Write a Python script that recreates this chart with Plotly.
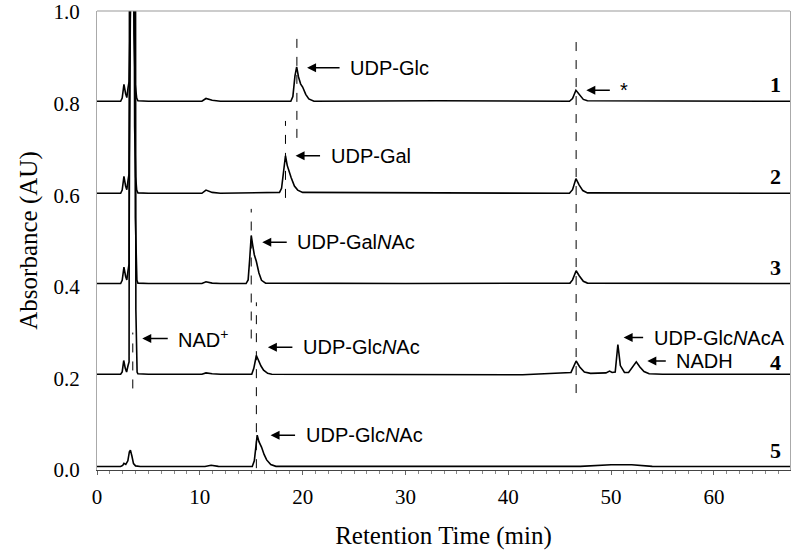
import plotly.graph_objects as go

# retention time (min) / absorbance (AU)
# (the NAD+ peak of lanes 1-4 runs far off scale; its edges are read where they cross the plot)
t1 = [0, 2.3, 2.45, 2.62, 2.78, 2.9, 3.02, 3.12, 3.40, 3.52, 3.60, 3.72, 3.86, 3.98, 5, 10.2, 10.6, 11.2,
      12, 18.85, 19.05, 19.25, 19.42, 19.6, 19.8, 20.0, 20.3, 20.6, 21.1, 33, 45.95, 46.25, 46.58, 46.9, 47.3, 47.7, 67.4]
a1 = [0.805, 0.805, 0.812, 0.842, 0.822, 0.813, 0.835, 0.848, 1.2, 1.2, 0.95, 0.84, 0.812, 0.806, 0.805, 0.805, 0.811, 0.807,
      0.805, 0.805, 0.815, 0.86, 0.880, 0.858, 0.843, 0.836, 0.82, 0.81, 0.805, 0.806, 0.805, 0.811, 0.829, 0.819, 0.809, 0.806, 0.805]

t2 = [0, 2.3, 2.45, 2.62, 2.78, 2.9, 3.02, 3.12, 3.32, 3.60, 3.66, 3.76, 3.86, 3.98, 5, 10.2, 10.6, 11.2,
      12, 17.75, 17.95, 18.15, 18.33, 18.5, 18.65, 18.87, 19.2, 19.52, 20.0, 35, 45.95, 46.25, 46.58, 46.9, 47.25, 47.7, 67.4]
a2 = [0.604, 0.604, 0.611, 0.641, 0.620, 0.612, 0.633, 0.647, 1.2, 1.2, 0.75, 0.64, 0.611, 0.605, 0.604, 0.604, 0.611, 0.606,
      0.604, 0.606, 0.615, 0.66, 0.686, 0.665, 0.653, 0.639, 0.620, 0.611, 0.606, 0.605, 0.604, 0.612, 0.636, 0.622, 0.61, 0.605, 0.604]

t3 = [0, 2.3, 2.45, 2.62, 2.78, 2.9, 3.02, 3.12, 3.24, 3.67, 3.73, 3.80, 3.88, 3.98, 5, 10.2, 10.6, 11.2,
      12, 14.5, 14.7, 14.85, 15.0, 15.15, 15.3, 15.5, 15.75, 16.0, 16.4, 30, 46.0, 46.25, 46.6, 46.9, 47.3, 47.7, 67.4]
a3 = [0.407, 0.407, 0.414, 0.443, 0.423, 0.415, 0.436, 0.450, 1.2, 1.2, 0.55, 0.445, 0.414, 0.408, 0.407, 0.407, 0.411, 0.408,
      0.407, 0.407, 0.415, 0.46, 0.512, 0.49, 0.47, 0.455, 0.43, 0.414, 0.408, 0.407, 0.408, 0.415, 0.435, 0.424, 0.412, 0.408, 0.407]

t4 = [0, 2.3, 2.45, 2.6, 2.75, 2.88, 3.02, 3.12, 3.16, 3.74, 3.78, 3.84, 3.9, 3.98, 5, 10.2, 10.6, 11.2,
      12, 15.05, 15.25, 15.5, 15.7, 15.95, 16.2, 16.6, 17.0, 36, 41.4, 46.1, 46.6, 46.95, 47.4, 48, 49.5, 49.85, 50.1, 50.4,
      50.66, 50.9, 51.3, 51.7, 51.95, 52.45, 52.8, 53.2, 53.7, 55, 67.4]
a4 = [0.209, 0.209, 0.214, 0.239, 0.222, 0.214, 0.228, 0.236, 1.2, 1.2, 0.35, 0.245, 0.214, 0.210, 0.209, 0.209, 0.212, 0.210,
      0.209, 0.209, 0.222, 0.250, 0.238, 0.227, 0.218, 0.211, 0.209, 0.208, 0.208, 0.213, 0.238, 0.225, 0.214, 0.211, 0.212, 0.216, 0.213, 0.214,
      0.274, 0.228, 0.213, 0.213, 0.220, 0.236, 0.225, 0.215, 0.210, 0.209, 0.209]

t5 = [0, 2.3, 2.5, 2.62, 2.8, 3.0, 3.15, 3.25, 3.4, 3.55, 3.75, 4.2, 10.5, 11.1, 11.8, 15.1, 15.3, 15.45, 15.58, 15.75,
      16.0, 16.25, 16.5, 16.9, 17.4, 47.0, 50.0, 52.0, 54.0, 67.4]
a5 = [0.0075, 0.0075, 0.010, 0.0145, 0.012, 0.020, 0.040, 0.0435, 0.030, 0.014, 0.009, 0.0075, 0.0075, 0.0105, 0.008, 0.0075, 0.020, 0.060, 0.076, 0.062,
      0.050, 0.034, 0.022, 0.012, 0.008, 0.008, 0.0115, 0.0115, 0.008, 0.0075]

lanes = ['1', '2', '3', '4', '5']
baselines = [0.805, 0.604, 0.407, 0.209, 0.0075]

# dashed retention-time markers: time, top, bottom
markers = [(19.44, 0.951, 0.725), (18.33, 0.762, 0.594), (15.0, 0.570, 0.287),
           (15.5, 0.366, 0.004), (3.48, 0.30, 0.178), (46.6, 0.94, 0.168)]

# peak labels: arrow tip (time, absorbance), arrow length px, text
peak_labels = [
    (20.43, 0.878, 34, 'UDP-Glc'),
    (19.31, 0.686, 26, 'UDP-Gal'),
    (16.07, 0.497, 26, 'UDP-Gal<i>N</i>Ac'),
    (4.40, 0.287, 27, 'NAD<sup>+</sup>'),
    (16.62, 0.268, 26, 'UDP-Glc<i>N</i>Ac'),
    (16.88, 0.076, 26, 'UDP-Glc<i>N</i>Ac'),
    (47.59, 0.829, 25, '*'),
    (51.22, 0.289, 21, 'UDP-Glc<i>N</i>AcA'),
    (53.52, 0.238, 20, 'NADH'),
]

fig = go.Figure()
for name, t, a in zip(lanes, [t1, t2, t3, t4, t5], [a1, a2, a3, a4, a5]):
    fig.add_trace(go.Scatter(x=t, y=a, mode='lines', name=name,
                             line=dict(color='black', width=1.6), showlegend=False))

for tm, top, bot in markers:
    fig.add_shape(type='line', x0=tm, x1=tm, y0=bot, y1=top, xref='x', yref='y',
                  line=dict(color='black', width=1, dash='dash'))

for tx, ty, length, label in peak_labels:
    fig.add_annotation(x=tx, y=ty, ax=length, ay=0, text='', showarrow=True,
                       arrowhead=2, arrowsize=1.2, arrowwidth=1.5, arrowcolor='black')
    fig.add_annotation(x=tx, y=ty, text=label, showarrow=False, xanchor='left', yanchor='middle',
                       xshift=length + 7, font=dict(family='Liberation Sans', size=20, color='black'))

# lane numbers sit just above each baseline; lane 4 sits a bit lower, under the UDP-GlcNAcA label
for name, b in zip(lanes, baselines):
    fig.add_annotation(x=66.0, y=b + 0.036, text='<b>%s</b>' % name, showarrow=False,
                       xanchor='center', yanchor='middle', yshift=-5 if name == '4' else 0,
                       font=dict(family='Liberation Serif', size=22, color='black'))

# thin grey frame along the top
fig.add_shape(type='line', xref='paper', yref='paper', x0=0, x1=1, y0=1, y1=1,
              line=dict(color='#999999', width=1))

fig.update_layout(
    width=800, height=556,
    margin=dict(l=97, r=10, t=11, b=86),
    plot_bgcolor='white', paper_bgcolor='white',
    font=dict(family='Liberation Serif', color='black'),
    xaxis=dict(range=[0, 67.4], tickvals=[0, 10, 20, 30, 40, 50, 60], showgrid=False, zeroline=False,
               automargin=False,
               showline=True, linecolor='#444444', linewidth=1, ticks='outside', ticklen=4, tickcolor='#666666',
               minor=dict(ticks='outside', ticklen=3, dtick=1.25, tickcolor='#888888'),
               tickfont=dict(family='Liberation Serif', size=21, color='black'), ticklabelstandoff=4,
               title=dict(text='Retention Time (min)', standoff=18,
                          font=dict(family='Liberation Serif', size=25, color='black'))),
    yaxis=dict(range=[0, 1.002], tickvals=[0, 0.2, 0.4, 0.6, 0.8, 1.0], tickformat='.1f', showgrid=False,
               automargin=False, ticklabeloverflow='allow',
               zeroline=False, showline=True, linecolor='#aaaaaa', linewidth=1, mirror=True, ticks='',
               tickfont=dict(family='Liberation Serif', size=21, color='black'), ticklabelstandoff=12,
               title=dict(text='Absorbance (AU)', standoff=8,
                          font=dict(family='Liberation Serif', size=25, color='black'))),
)

# drop the page's default body margin so the 800x556 figure fills the window
fig.write_html("out.html", config={'displayModeBar': False},
               post_script="document.body.style.margin = '0';")
